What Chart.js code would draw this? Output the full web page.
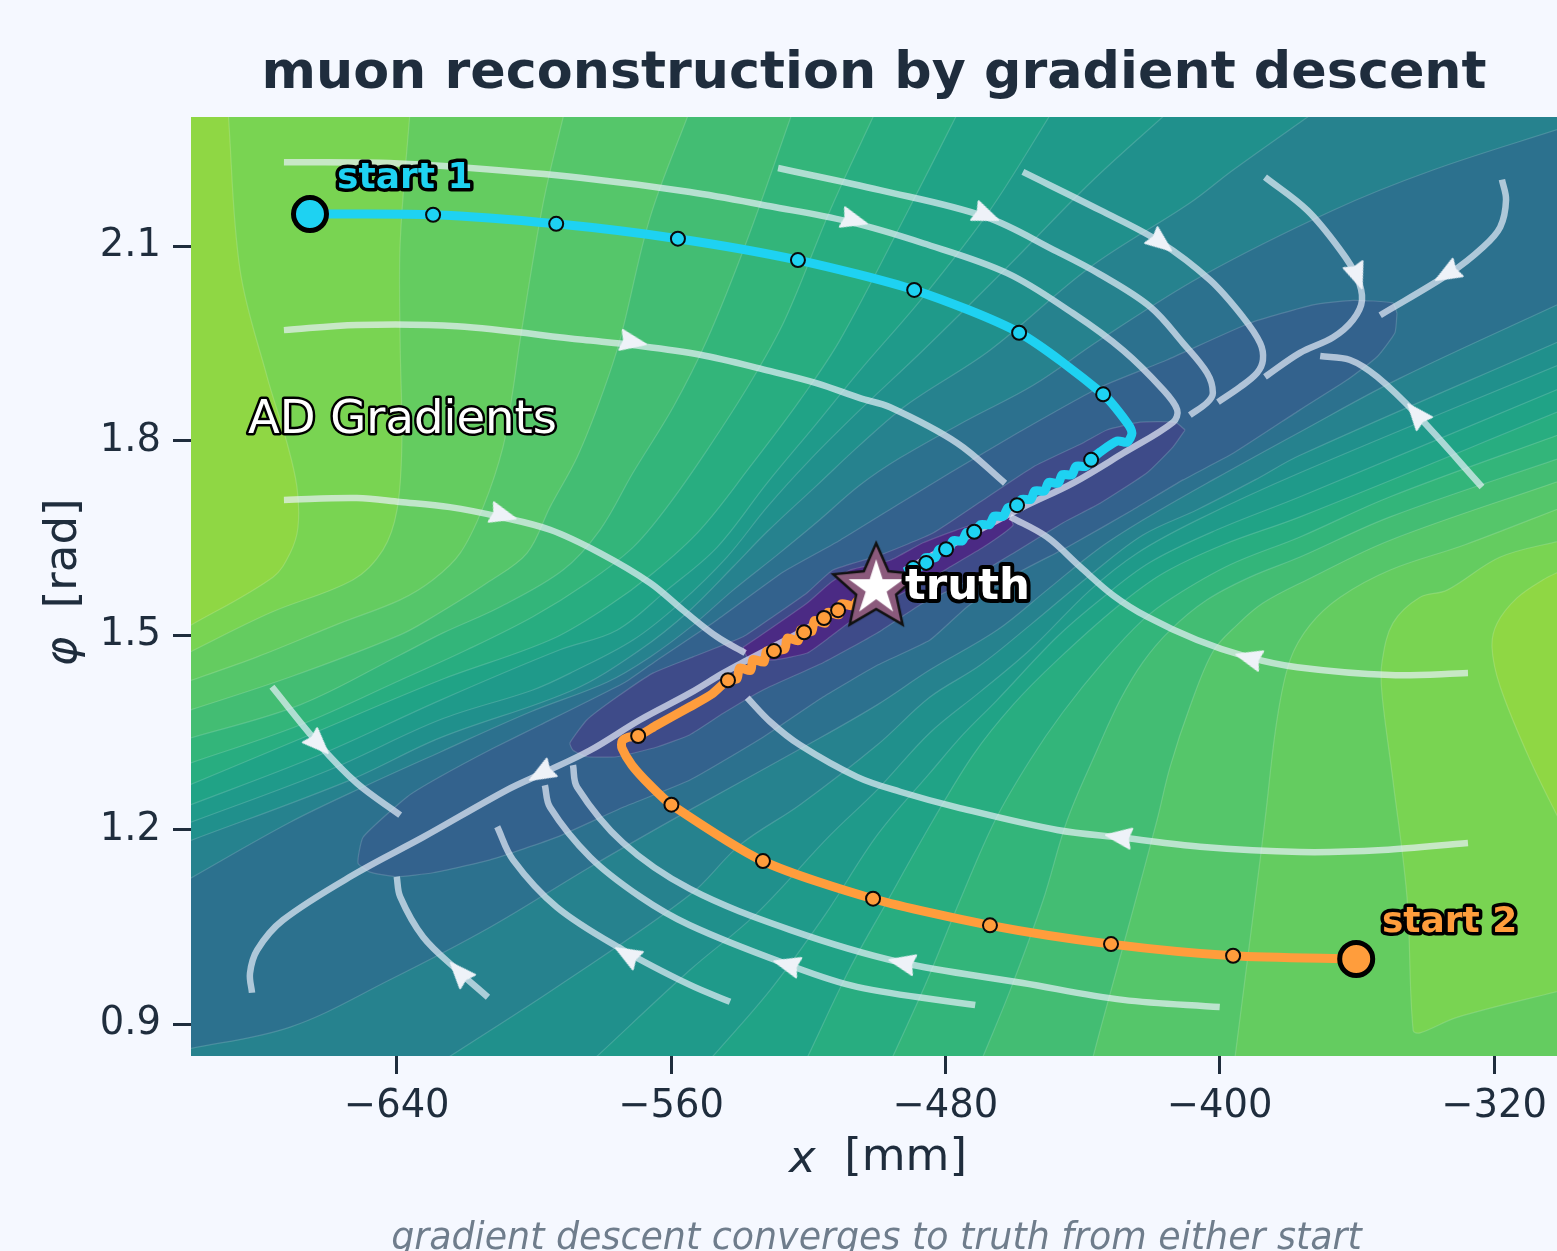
<!DOCTYPE html>
<html>
<head>
<meta charset="utf-8">
<style>
html,body{margin:0;padding:0;background:#f5f8ff;width:1557px;height:1251px;overflow:hidden}
canvas{display:block}
</style>
<script src="https://cdn.jsdelivr.net/npm/chart.js@4/dist/chart.umd.min.js"></script>
</head>
<body>
<canvas id="c" width="1557" height="1251"></canvas>
<script>
const titleText = 'muon reconstruction by gradient descent';
const footText = 'gradient descent converges to truth from either start';
const xTicks = [-640,-560,-480,-400,-320];
const yTicks = [0.9,1.2,1.5,1.8,2.1];
const bandColors = ['#8fd744','#79d452','#64cc60','#55c66a','#43bd73','#33b57a','#28ad80','#20a386','#1f9a8a','#20908c','#26828e','#2c718e','#33628d','#3e4b89','#4b2a84'];

const level1Upper = [[-702,1.51],[-676.1,1.59],[-671.1,1.627],[-668.8,1.667],[-669.1,1.729],[-672,1.797],[-677.8,1.899],[-685.7,2.064],[-689.2,2.31]];
const level1Lower = [[-300,1.601],[-305.7,1.586],[-313.3,1.558],[-319.1,1.519],[-320.6,1.482],[-318.2,1.421],[-309.5,1.308],[-300,1.205]];
const level2Upper = [[-702,1.47],[-676.9,1.535],[-652.7,1.586],[-644,1.632],[-639.9,1.694],[-638.5,1.797],[-639,1.951],[-639,2.105],[-636.1,2.31]];
const level2Lower = [[-300,1.647],[-318.2,1.621],[-333.7,1.57],[-341.6,1.559],[-349.5,1.519],[-352.7,1.458],[-352.7,1.411],[-349.5,1.277],[-345.4,1.097],[-343.6,0.891],[-341.6,0.887],[-330.8,0.911],[-300,0.953]];
const level3Upper = [[-702,1.427],[-680.7,1.467],[-656.5,1.519],[-639,1.555],[-629.4,1.586],[-621.5,1.627],[-614.8,1.698],[-609,1.791],[-606.1,1.879],[-604,1.956],[-597.3,2.167],[-591,2.31]];
const level3Lower = [[-300,1.698],[-328.5,1.64],[-350.3,1.601],[-364.9,1.559],[-373.7,1.516],[-379.5,1.462],[-383.3,1.37],[-386.8,1.215],[-389.7,1.092],[-395.5,0.851]];
const level4Upper = [[-702,1.382],[-671.1,1.436],[-639,1.501],[-629.4,1.529],[-613.7,1.581],[-602,1.627],[-595.3,1.698],[-587.4,1.775],[-580.7,1.863],[-574.9,1.956],[-566.1,2.145],[-554.5,2.31]];
const level4Lower = [[-300,1.74],[-350.3,1.647],[-374.5,1.586],[-387.4,1.55],[-395,1.516],[-402,1.475],[-408.7,1.39],[-414.5,1.297],[-418.3,1.215],[-426.1,1.061],[-434.9,0.891],[-436.9,0.851]];
const level5Upper = [[-702,1.339],[-668.2,1.393],[-639,1.47],[-626.5,1.504],[-609.9,1.544],[-591.5,1.601],[-580.7,1.663],[-571.1,1.751],[-559.4,1.852],[-549.5,1.956],[-537.8,2.11],[-524.4,2.31]];
const level5Lower = [[-300,1.775],[-350.3,1.683],[-376.6,1.621],[-391.2,1.59],[-403.7,1.555],[-414.5,1.508],[-422.4,1.459],[-429.1,1.4],[-435.8,1.323],[-444.5,1.215],[-451.5,1.092],[-461.1,0.953],[-469,0.851]];
const level6Upper = [[-702,1.3],[-668.2,1.362],[-639,1.431],[-619.5,1.478],[-600.3,1.529],[-584.5,1.581],[-571.1,1.636],[-561.2,1.698],[-549.5,1.786],[-537,1.889],[-526.8,1.987],[-513.6,2.156],[-500.2,2.31]];
const level6Lower = [[-300,1.812],[-350.3,1.714],[-376.6,1.652],[-397,1.609],[-413.6,1.559],[-422.4,1.524],[-434,1.459],[-445.7,1.382],[-455.3,1.308],[-465.5,1.215],[-475.7,1.092],[-485.9,0.961],[-495.3,0.851]];
const level7Upper = [[-702,1.266],[-665.3,1.347],[-627.4,1.431],[-595.3,1.493],[-578.7,1.544],[-565.3,1.596],[-551.5,1.663],[-537,1.76],[-522.4,1.863],[-510.7,1.956],[-491.2,2.152],[-476,2.31]];
const level7Lower = [[-300,1.848],[-376.6,1.683],[-399,1.64],[-416.5,1.596],[-430,1.544],[-447.4,1.462],[-460.3,1.393],[-471.9,1.316],[-483.6,1.215],[-497.6,1.084],[-507.8,0.987],[-520.1,0.851]];
const level8Upper = [[-702,1.235],[-662.4,1.316],[-627.4,1.4],[-592.4,1.478],[-575.8,1.508],[-561.2,1.57],[-546.6,1.636],[-532,1.735],[-517.4,1.828],[-504.9,1.909],[-486.5,2.022],[-467,2.156],[-448.6,2.31]];
const level8Lower = [[-300,1.883],[-376.6,1.714],[-400.8,1.663],[-420.3,1.613],[-434,1.559],[-447.4,1.498],[-465,1.4],[-474.9,1.347],[-484.5,1.288],[-499.9,1.192],[-515.1,1.069],[-531.1,0.953],[-547.8,0.851]];
const level9Upper = [[-702,1.208],[-659.5,1.293],[-627.4,1.37],[-600.3,1.416],[-588.6,1.444],[-571.1,1.493],[-557.4,1.55],[-543.7,1.621],[-532,1.698],[-519.5,1.771],[-504.9,1.848],[-486.5,1.94],[-462,2.068],[-437.8,2.198],[-414.5,2.31]];
const level9Lower = [[-300,1.92],[-376.6,1.751],[-406.6,1.678],[-424.1,1.627],[-437.8,1.57],[-455.3,1.478],[-469.9,1.413],[-484.5,1.35],[-499.9,1.262],[-513.6,1.192],[-535.5,1.069],[-554.5,0.984],[-581.6,0.851]];
const level10Upper = [[-702,1.18],[-653.6,1.277],[-627.4,1.342],[-588.6,1.416],[-569,1.478],[-554.5,1.539],[-541.9,1.606],[-532,1.66],[-517.4,1.732],[-504.9,1.794],[-491.2,1.856],[-467,1.94],[-437.8,2.068],[-408.7,2.167],[-396.1,2.218],[-371.6,2.31]];
const level10Lower = [[-300,1.956],[-376.6,1.778],[-389.7,1.74],[-406.6,1.694],[-422.4,1.655],[-437.8,1.593],[-455.3,1.516],[-469.9,1.454],[-484.5,1.405],[-499.9,1.331],[-522.4,1.239],[-539.9,1.177],[-554.5,1.1],[-593.3,0.958],[-624.5,0.851]];
const level11Upper = [[-702,1.12],[-671.1,1.212],[-648.7,1.269],[-627.4,1.32],[-601.1,1.382],[-578.7,1.428],[-566.1,1.467],[-553.6,1.516],[-541.9,1.57],[-529.1,1.624],[-517.4,1.675],[-504.9,1.732],[-493.2,1.774],[-473.7,1.832],[-454.4,1.886],[-434.9,1.956],[-405.7,2.053],[-366.9,2.156],[-337.8,2.218],[-300,2.283]];
const level11Lower = [[-300,2.014],[-347.4,1.897],[-376.6,1.814],[-402,1.74],[-422.4,1.678],[-435.8,1.632],[-450.4,1.57],[-465,1.508],[-484.5,1.447],[-499.9,1.393],[-520.3,1.331],[-554.5,1.231],[-583.6,1.143],[-612.8,1.05],[-642,0.969],[-671.1,0.896],[-702,0.861]];
const level12Closed = [[-348.3,1.997],[-349.5,2.013],[-361.1,2.017],[-372.8,2.01],[-391.2,1.982],[-415.4,1.925],[-434.9,1.883],[-459.1,1.812],[-478.6,1.751],[-493.2,1.704],[-510.7,1.647],[-527.3,1.598],[-546.6,1.524],[-564.1,1.462],[-573.4,1.428],[-598.2,1.362],[-611.9,1.326],[-627.4,1.282],[-637,1.251],[-649.8,1.189],[-651.3,1.149],[-647.8,1.135],[-640,1.128],[-629.4,1.134],[-612.8,1.154],[-593.3,1.189],[-574,1.235],[-554.5,1.277],[-533.2,1.343],[-515.7,1.405],[-499.9,1.454],[-484.5,1.493],[-473.7,1.544],[-459.1,1.596],[-444.5,1.636],[-425.3,1.694],[-410.7,1.74],[-396.1,1.781],[-376.6,1.848],[-362.9,1.894],[-354.1,1.93],[-348.9,1.967]];
const level13Closed = [[-410.1,1.817],[-413,1.829],[-423.2,1.829],[-432.9,1.817],[-439.9,1.797],[-454.4,1.76],[-469,1.709],[-483.6,1.658],[-499.1,1.624],[-512.8,1.601],[-520.3,1.566],[-530.3,1.529],[-539,1.498],[-553.6,1.467],[-565.3,1.442],[-575.8,1.405],[-584.5,1.37],[-589.5,1.334],[-588.6,1.323],[-584.5,1.313],[-575.8,1.313],[-564.1,1.328],[-554.5,1.347],[-544.8,1.38],[-533.2,1.416],[-515.7,1.458],[-499.9,1.504],[-486.5,1.55],[-475.7,1.578],[-461.1,1.624],[-445.7,1.674],[-434.9,1.704],[-421.2,1.751],[-413.6,1.791]];
const level14Closed = [[-539,1.482],[-530.3,1.513],[-520.3,1.55],[-513.6,1.581],[-507.8,1.601],[-496.1,1.616],[-486.5,1.643],[-476.6,1.663],[-462,1.686],[-460.3,1.67],[-469,1.636],[-478.6,1.606],[-486.5,1.581],[-492.3,1.566],[-505.8,1.529],[-513.6,1.498],[-520.3,1.473],[-530.3,1.462],[-537.6,1.465]];

const stream1 = [[-672.9,2.23],[-644.9,2.229],[-618.6,2.221],[-586.5,2.206],[-554.5,2.184],[-531.1,2.162],[-508.7,2.139],[-486.5,2.105],[-462,2.059],[-442.8,1.997],[-428.2,1.94],[-416.5,1.879],[-412.4,1.848],[-413.6,1.829],[-428.2,1.781],[-442.8,1.735],[-457.4,1.698],[-475.7,1.647],[-491.8,1.601]];
const stream2 = [[-528.8,2.221],[-499.1,2.187],[-468.4,2.146],[-447.4,2.092],[-434.9,2.057],[-420.3,2.007],[-410.7,1.951],[-403.7,1.905],[-402,1.874],[-403.7,1.859],[-408.7,1.84]];
const stream3 = [[-457.4,2.215],[-434.9,2.156],[-417.4,2.107],[-402.8,2.048],[-393.2,1.991],[-388.2,1.951],[-387.4,1.925],[-389.1,1.905],[-394.1,1.883],[-400.5,1.86]];
const stream4 = [[-386.8,2.207],[-374.5,2.156],[-364.9,2.095],[-360,2.053],[-358.5,2.017],[-361.1,1.987],[-366.9,1.96],[-376.6,1.936],[-386.8,1.899]];
const stream5 = [[-317.7,2.203],[-316.5,2.172],[-318.2,2.13],[-323.2,2.099],[-332.8,2.059],[-353.2,1.994]];
const stream6 = [[-323.5,1.729],[-342.4,1.84],[-354.1,1.899],[-362,1.925],[-370.7,1.931]];
const stream7 = [[-672.9,1.971],[-651.6,1.979],[-622.4,1.977],[-585.7,1.956],[-571.1,1.948],[-551.5,1.933],[-532,1.909],[-517.4,1.889],[-504.9,1.866],[-496.1,1.852],[-476.6,1.797],[-462.6,1.735]];
const stream8 = [[-672.9,1.709],[-651.6,1.712],[-639,1.706],[-624.5,1.698],[-609.9,1.683],[-595.3,1.663],[-580.7,1.627],[-566.1,1.581],[-556.5,1.539],[-546.6,1.498],[-538.4,1.473]];
const stream9 = [[-676.4,1.421],[-663,1.334],[-651.6,1.272],[-639,1.223]];
const stream10 = [[-682.2,0.949],[-682.8,0.979],[-680.7,1.015],[-673.2,1.061],[-651.6,1.134],[-632.3,1.189],[-607.8,1.262],[-597.3,1.288],[-583.6,1.323],[-569,1.37],[-554.5,1.411],[-544.8,1.442],[-537.8,1.462],[-522.4,1.505],[-511.3,1.539]];
const stream11 = [[-640,1.128],[-639,1.097],[-632.3,1.035],[-622.4,0.984],[-613.4,0.942]];
const stream12 = [[-610.7,1.205],[-606.1,1.154],[-593.3,1.081],[-574,1.015],[-554.5,0.961],[-542.8,0.935]];
const stream13 = [[-596.8,1.269],[-595.3,1.235],[-583.6,1.158],[-569,1.097],[-554.5,1.053],[-527.3,0.995],[-505.8,0.958],[-471.3,0.93]];
const stream14 = [[-588.6,1.3],[-587.4,1.266],[-574,1.18],[-554.5,1.109],[-525.3,1.046],[-493.2,0.996],[-457.4,0.964],[-428.2,0.938],[-400,0.927]];
const stream15 = [[-537.8,1.404],[-531.1,1.367],[-522.4,1.331],[-505.8,1.282],[-493.2,1.259],[-476.6,1.235],[-447.4,1.2],[-428.2,1.188],[-405.7,1.174],[-376.6,1.166],[-352.4,1.169],[-327.6,1.18]];
const stream16 = [[-461.1,1.683],[-450.4,1.652],[-440.7,1.606],[-431.1,1.562],[-421.2,1.529],[-406.6,1.493],[-392,1.467],[-377.4,1.451],[-350.3,1.439],[-327.6,1.442]];

const arrowX = [-506.9,-468.4,-417.4,-360,-333.4,-342.4,-571.4,-609.3,-663,-597.6,-621.5,-572.5,-525.9,-492.3,-429.1,-391.2];
const arrowY = [2.141,2.149,2.107,2.056,2.059,1.84,1.953,1.686,1.334,1.288,0.979,1.007,0.992,0.995,1.189,1.465];
const arrowAngle = [105,112,128,160,240,320,100,105,135,240,318,300,285,282,278,285];

const cyanPath = [[-665.3,2.15],[-629.4,2.149],[-593.5,2.135],[-558,2.112],[-523,2.079],[-489.1,2.033],[-458.5,1.967],[-434,1.872],[-427,1.828],[-425.6,1.812],[-427,1.798],[-429.9,1.8],[-434.9,1.783],[-437.5,1.771],[-439.1,1.761],[-441.9,1.761],[-443.1,1.748],[-445.9,1.748],[-447.1,1.735],[-449.9,1.736],[-451.1,1.723],[-453.9,1.723],[-455.1,1.71],[-457.8,1.71],[-459.1,1.701],[-461.8,1.697],[-463.1,1.684],[-465.8,1.684],[-467.1,1.671],[-469.8,1.671],[-471.1,1.659],[-473.8,1.659],[-475.1,1.646],[-477.8,1.646],[-479,1.633],[-481.8,1.633],[-483,1.62],[-485.8,1.62],[-487,1.607],[-489.4,1.604],[-491.8,1.598]];
const cyanMarkers = [[-629.4,2.149],[-593.5,2.135],[-558,2.112],[-523,2.079],[-489.1,2.033],[-458.5,1.967],[-434,1.872],[-437.5,1.771],[-459.1,1.701],[-471.6,1.66],[-479.8,1.633],[-485.6,1.612],[-489.4,1.604]];
const orangePath = [[-360.2,1.001],[-396.1,1.006],[-431.7,1.024],[-467,1.053],[-501.1,1.094],[-533.2,1.152],[-559.9,1.239],[-566.1,1.269],[-571.4,1.3],[-574.3,1.326],[-574.3,1.337],[-572.5,1.343],[-569.6,1.345],[-564.1,1.362],[-554.5,1.39],[-548,1.41],[-543.4,1.431],[-540.8,1.433],[-540,1.45],[-536.8,1.446],[-536.1,1.463],[-532.9,1.459],[-532.1,1.476],[-526.9,1.479],[-526.1,1.496],[-522.9,1.492],[-522.2,1.509],[-519,1.506],[-518.2,1.523],[-515,1.519],[-514.2,1.536],[-511,1.532],[-510.3,1.549],[-507.1,1.546],[-504.9,1.559]];
const orangeMarkers = [[-396.1,1.006],[-431.7,1.024],[-467,1.053],[-501.1,1.094],[-533.2,1.152],[-559.9,1.239],[-569.6,1.345],[-543.4,1.431],[-530,1.476],[-521.2,1.505],[-515.4,1.527],[-511.3,1.539]];
const start1 = [-665.3,2.15];
const start2 = [-360.2,1.001];
const truth = [-500.2,1.573];
const textLabels = [
  {text:'AD Gradients', x:-683.4, y:1.8315, font:'46.5px "DejaVu Sans"', fill:'#ffffff', stroke:'#000000', width:5},
  {text:'start 1', x:-657.4, y:2.2045, font:'bold 36px "DejaVu Sans"', fill:'#1ed2f2', stroke:'#000000', width:7},
  {text:'start 2', x:-352.7, y:1.0575, font:'bold 36px "DejaVu Sans"', fill:'#ff9d3c', stroke:'#000000', width:7},
  {text:'truth', x:-491.8, y:1.5735, font:'bold 43.5px "DejaVu Sans"', fill:'#ffffff', stroke:'#000000', width:8}
];

const TEXT = '#1f2d3d';
const FONT = '"DejaVu Sans"';
const CYAN = '#1ed2f2', ORANGE = '#ff9d3c';
const xy = a => a.map(p => ({x:p[0], y:p[1]}));
const datasets = [];
function add(d){ datasets.push(d); }
function band(points, color, tension){
  add({data:xy(points), showLine:true, fill:'shape', backgroundColor:color, borderColor:'rgba(255,255,255,0.16)', borderWidth:1.2, pointRadius:0, tension:tension, clip:0});
}
// carry a curve's own direction past the plot edge so the frame corners do not bend it inside the plot
function past(a, b){ return [a[0]+(a[0]-b[0])*0.6, a[1]+(a[1]-b[1])*0.6]; }
function openBand(upper, lower, color){
  const u = upper.length, l = lower.length;
  const pts = [past(upper[0],upper[1]), ...upper, past(upper[u-1],upper[u-2])];
  pts.push([-270,2.5]);
  pts.push(past(lower[0],lower[1]), ...lower, past(lower[l-1],lower[l-2]));
  if (lower[l-1][0] === -300) pts.push([-270,0.7]);
  pts.push([-730,0.7]);
  pts.push(pts[0]);
  band(pts, color, 0.35);
}
band([[-730,0.7],[-270,0.7],[-270,2.5],[-730,2.5],[-730,0.7]], bandColors[0], 0);
const openLevels = [[level1Upper,level1Lower],[level2Upper,level2Lower],[level3Upper,level3Lower],[level4Upper,level4Lower],[level5Upper,level5Lower],[level6Upper,level6Lower],[level7Upper,level7Lower],[level8Upper,level8Lower],[level9Upper,level9Lower],[level10Upper,level10Lower],[level11Upper,level11Lower]];
openLevels.forEach((l,i)=>openBand(l[0],l[1],bandColors[i+1]));
[level12Closed,level13Closed,level14Closed].forEach((l,i)=>band([...l,l[0]],bandColors[12+i],0.15));

[stream1,stream2,stream3,stream4,stream5,stream6,stream7,stream8,stream9,stream10,stream11,stream12,stream13,stream14,stream15,stream16].forEach(s=>{
  add({data:xy(s), showLine:true, fill:false, borderColor:'rgba(236,241,252,0.68)', borderWidth:6.5, pointRadius:0, tension:0.35, borderCapStyle:'butt'});
});

const arrowIcon = document.createElement('canvas');
arrowIcon.width = 40; arrowIcon.height = 40;
(function(){
  const g = arrowIcon.getContext('2d');
  g.beginPath(); g.moveTo(20,6); g.lineTo(30,31); g.lineTo(20,28); g.lineTo(10,31); g.closePath();
  g.fillStyle='#eef2f8'; g.strokeStyle='#eef2f8'; g.lineWidth=2; g.lineJoin='round'; g.fill(); g.stroke();
})();
add({data:arrowX.map((x,i)=>({x:x,y:arrowY[i]})), showLine:false, pointStyle:arrowIcon, pointRadius:14, pointRotation:arrowAngle});

add({data:xy(cyanPath), showLine:true, fill:false, borderColor:CYAN, borderWidth:9, pointRadius:0, tension:0.25, borderJoinStyle:'round'});
add({data:xy(orangePath), showLine:true, fill:false, borderColor:ORANGE, borderWidth:9, pointRadius:0, tension:0.25, borderJoinStyle:'round'});
add({data:xy(cyanMarkers), showLine:false, pointRadius:7, backgroundColor:CYAN, borderColor:'#0a0a0a', borderWidth:2});
add({data:xy(orangeMarkers), showLine:false, pointRadius:7, backgroundColor:ORANGE, borderColor:'#0a0a0a', borderWidth:2});
add({data:xy([start1]), showLine:false, pointRadius:16.5, backgroundColor:CYAN, borderColor:'#000', borderWidth:5});
add({data:xy([start2]), showLine:false, pointRadius:16.5, backgroundColor:ORANGE, borderColor:'#000', borderWidth:5});

function starPath(g,cx,cy,R,r){
  g.beginPath();
  for(let i=0;i<10;i++){
    const a=-Math.PI/2+i*Math.PI/5, q=i%2?r:R;
    g.lineTo(cx+q*Math.cos(a),cy+q*Math.sin(a));
  }
  g.closePath();
}
const starIcon = document.createElement('canvas');
starIcon.width = 110; starIcon.height = 110;
(function(){
  const g = starIcon.getContext('2d');
  starPath(g,55,55,45,21);
  g.fillStyle='#8b5a7c'; g.strokeStyle='#111'; g.lineWidth=2.5; g.lineJoin='miter'; g.fill(); g.stroke();
  starPath(g,55,55,29,11);
  g.fillStyle='#ffffff'; g.fill();
})();
add({data:xy([truth]), showLine:false, pointStyle:starIcon, pointRadius:20, backgroundColor:'#fff', borderWidth:0});
datasets.forEach((d,i)=>{ d.order = datasets.length - i; });

const overlay = {
  id:'overlay',
  afterDatasetsDraw(chart){
    const {ctx, scales:{x,y}} = chart;
    ctx.save();
    ctx.textBaseline='middle'; ctx.textAlign='left'; ctx.lineJoin='round';
    textLabels.forEach(l=>{
      ctx.font=l.font;
      const px=x.getPixelForValue(l.x), py=y.getPixelForValue(l.y);
      ctx.lineWidth=l.width; ctx.strokeStyle=l.stroke; ctx.strokeText(l.text,px,py);
      ctx.fillStyle=l.fill; ctx.fillText(l.text,px,py);
    });
    ctx.restore();
  },
  afterDraw(chart){
    const {ctx, chartArea:a} = chart;
    const mid=(a.left+a.right)/2;
    ctx.save();
    ctx.fillStyle=TEXT; ctx.textBaseline='middle'; ctx.textAlign='left';
    const it='italic 45px '+FONT, re='45px '+FONT;
    ctx.font=it; const w1=ctx.measureText('x').width;
    ctx.font=re; const w2=ctx.measureText('  [mm]').width;
    let sx=mid+4-(w1+w2)/2;
    ctx.font=it; ctx.fillText('x',sx,1160);
    ctx.font=re; ctx.fillText('  [mm]',sx+w1,1158);
    ctx.save();
    ctx.translate(64,(a.top+a.bottom)/2);
    ctx.rotate(-Math.PI/2);
    ctx.font=it; const w3=ctx.measureText('φ').width;
    ctx.font=re; const w4=ctx.measureText('  [rad]').width;
    sx=4-(w3+w4)/2;
    ctx.font=it; ctx.fillText('φ',sx,0);
    ctx.font=re; ctx.fillText('  [rad]',sx+w3,0);
    ctx.restore();
    ctx.font='italic 36.4px '+FONT; ctx.fillStyle='#6f7d8c'; ctx.textAlign='center';
    ctx.fillText(footText,876.5,1240);
    ctx.restore();
  }
};

new Chart(document.getElementById('c'),{
  type:'scatter',
  data:{datasets},
  plugins:[overlay],
  options:{
    responsive:false, animation:false, devicePixelRatio:1,
    layout:{padding:0, autoPadding:false},
    plugins:{
      legend:{display:false}, tooltip:{enabled:false},
      title:{display:true, text:titleText, fullSize:false, color:TEXT, font:{family:FONT,size:52.3,weight:'bold'}, padding:{top:43,bottom:11.2}}
    },
    scales:{
      x:{type:'linear', min:-700, max:-301.64,
        afterFit(s){s.height=195;},
        afterBuildTicks(s){s.ticks=xTicks.map(v=>({value:v}));},
        grid:{drawOnChartArea:false, drawTicks:true, tickLength:18, tickWidth:3, tickColor:TEXT},
        border:{display:false},
        ticks:{color:TEXT, font:{family:FONT,size:38.5}, padding:10, maxRotation:0, autoSkip:false, callback:v=>String(v).replace('-','\u2212')}
      },
      y:{type:'linear', min:0.8514, max:2.2998,
        afterFit(s){s.width=191;},
        afterBuildTicks(s){s.ticks=yTicks.map(v=>({value:v}));},
        grid:{drawOnChartArea:false, drawTicks:true, tickLength:18, tickWidth:3, tickColor:TEXT},
        border:{display:false},
        ticks:{color:TEXT, font:{family:FONT,size:38.5}, padding:12, autoSkip:false, callback:v=>v.toFixed(1)}
      }
    }
  }
});
</script>
</body>
</html>
